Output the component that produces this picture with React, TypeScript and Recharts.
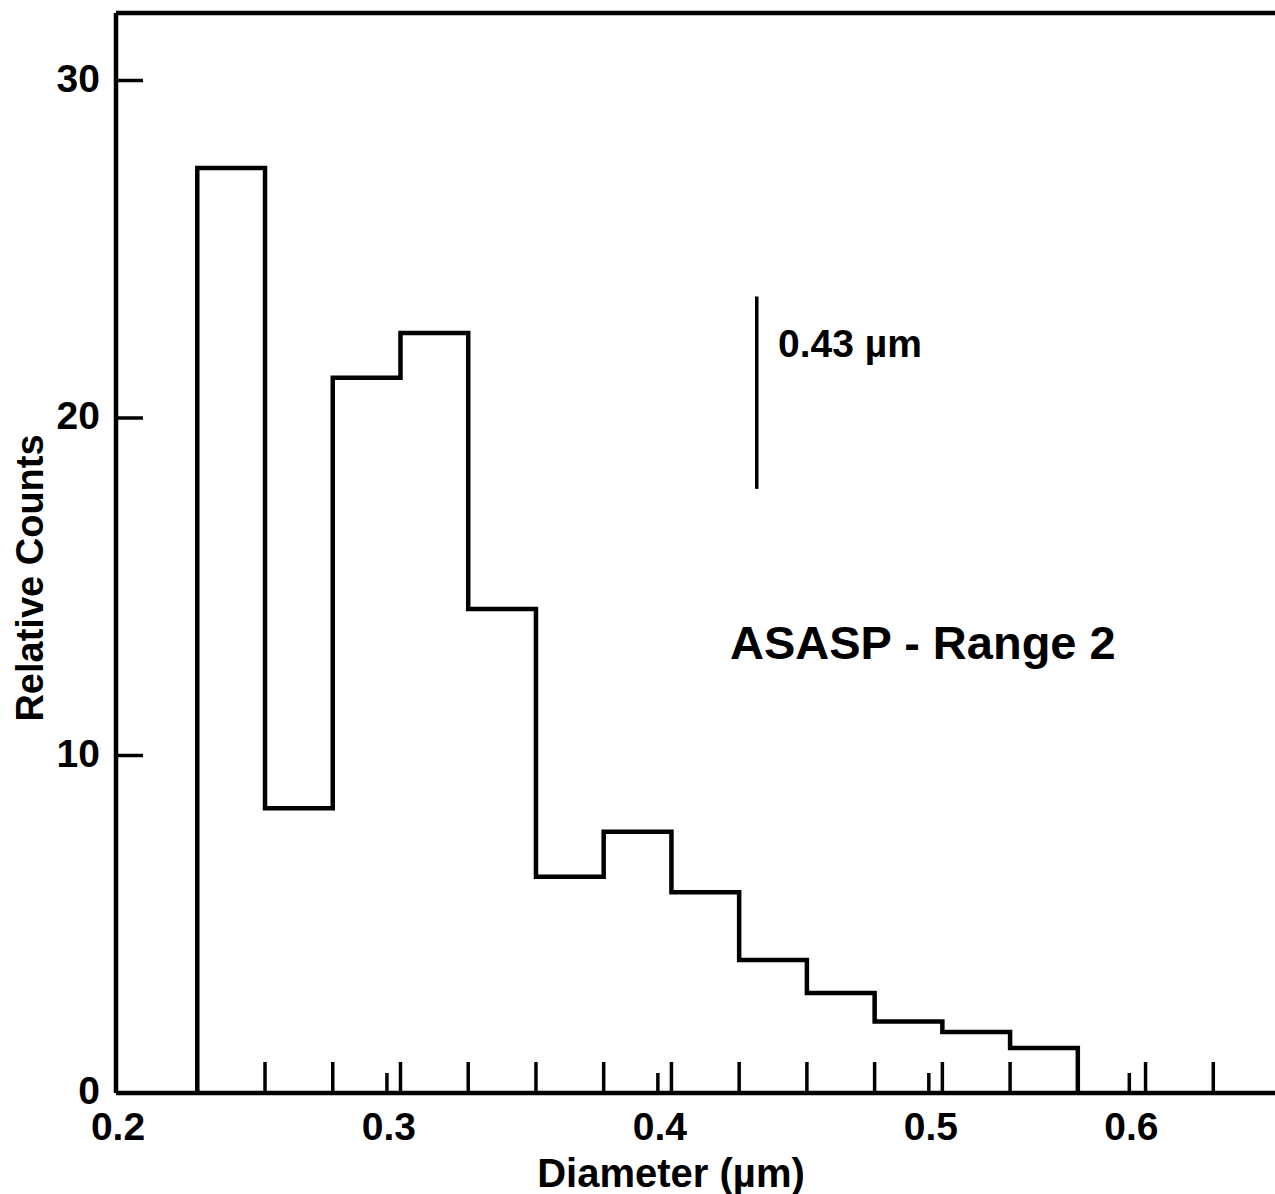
import React from 'react';
import { ComposedChart, Line, XAxis, YAxis, ReferenceLine, Customized } from 'recharts';

// ---- data ----
// lower edges of the size channels (µm); last entry closes the final bin
const binEdges = [0.23, 0.255, 0.28, 0.305, 0.33, 0.355, 0.38, 0.405, 0.43, 0.455, 0.48, 0.505, 0.53, 0.555];
// relative counts of each channel
const counts = [27.41, 8.44, 21.19, 22.52, 14.34, 6.41, 7.74, 5.95, 3.94, 2.96, 2.12, 1.81, 1.33];
// channel boundary tick marks along the x axis
const channelTicks = [0.23, 0.255, 0.28, 0.305, 0.33, 0.355, 0.38, 0.405, 0.43, 0.455, 0.48, 0.505, 0.53, 0.555, 0.58, 0.605];
// labelled diameter ticks (positions as drawn in the original) and their labels
const labelTickPositions = [0.2, 0.3, 0.4, 0.5, 0.574];
const labelTickTexts = ['0.2', '0.3', '0.4', '0.5', '0.6'];
const yTicks = [0, 10, 20, 30];
const yTickLabels = ['0', '10', '20', '30'];
// marker line
const markerDiameter = 0.4365;
const markerRange = [17.9, 23.6];
const markerText = '0.43 \u00b5m';
const titleText = 'ASASP - Range 2';
const xTitle = 'Diameter (\u00b5m)';
const yTitle = 'Relative Counts';

const X_DOMAIN = [0.2, 0.637];
const Y_DOMAIN = [0, 32];

const FONT = '"Liberation Sans", Arial, Helvetica, sans-serif';

const histData = [
  { d: binEdges[0], c: 0 },
  ...counts.map((c, i) => ({ d: binEdges[i], c })),
  { d: binEdges[binEdges.length - 1], c: 0 },
];

const allXTicks = [...labelTickPositions, ...channelTicks].sort((a, b) => a - b);

const near = (a: number, b: number) => Math.abs(a - b) < 1e-9;

const XTick = (props: any) => {
  const { x, y, payload } = props;
  const v = payload.value;
  const li = labelTickPositions.findIndex((p) => near(p, v));
  const isChannel = channelTicks.some((p) => near(p, v));
  return (
    <g>
      {isChannel && <line x1={x} x2={x} y1={y} y2={y - 31} stroke="#000" strokeWidth={3.5} />}
      {li >= 0 && <line x1={x} x2={x} y1={y} y2={y - 20} stroke="#000" strokeWidth={3.5} />}
      {li >= 0 && (
        <text x={x + 2} y={y + 47} textAnchor="middle" fontFamily={FONT} fontWeight="bold" fontSize={39} fill="#000">
          {labelTickTexts[li]}
        </text>
      )}
    </g>
  );
};

const YTick = (props: any) => {
  const { x, y, payload } = props;
  const i = yTicks.findIndex((t) => near(t, payload.value));
  return (
    <g>
      <line x1={x} x2={x + 27} y1={y} y2={y} stroke="#000" strokeWidth={3.5} />
      <text x={x - 16} y={y + 11} textAnchor="end" fontFamily={FONT} fontWeight="bold" fontSize={39} fill="#000">
        {i >= 0 ? yTickLabels[i] : ''}
      </text>
    </g>
  );
};

const Texts = () => (
  <g>
    <text x={730} y={659} fontFamily={FONT} fontWeight="bold" fontSize={47} fill="#000">
      {titleText}
    </text>
    <text x={778} y={357} fontFamily={FONT} fontWeight="bold" fontSize={39} fill="#000">
      {markerText}
    </text>
    <text x={671} y={1187} textAnchor="middle" fontFamily={FONT} fontWeight="bold" fontSize={40} fill="#000">
      {xTitle}
    </text>
    <text
      x={43}
      y={578}
      transform="rotate(-90 43 578)"
      textAnchor="middle"
      fontFamily={FONT}
      fontWeight="bold"
      fontSize={38}
      fill="#000"
    >
      {yTitle}
    </text>
  </g>
);

export default function App() {
  return (
    <div
      style={{
        position: 'absolute',
        left: 0,
        top: 0,
        width: 1275,
        height: 1194,
        overflow: 'hidden',
        background: '#fff',
      }}
    >
      <ComposedChart
        width={1300}
        height={1194}
        data={histData}
        margin={{ top: 13, right: 0, bottom: 0, left: 0 }}
      >
        <XAxis
          dataKey="d"
          type="number"
          domain={X_DOMAIN}
          allowDataOverflow
          ticks={allXTicks}
          interval={0}
          tickSize={0}
          tickMargin={0}
          tickLine={false}
          tick={XTick}
          height={101}
          axisLine={{ stroke: '#000', strokeWidth: 4.5 }}
        />
        <YAxis
          type="number"
          domain={Y_DOMAIN}
          allowDataOverflow
          ticks={yTicks}
          interval={0}
          tickSize={0}
          tickMargin={0}
          tickLine={false}
          tick={YTick}
          width={116}
          axisLine={{ stroke: '#000', strokeWidth: 4.5 }}
        />
        <ReferenceLine y={Y_DOMAIN[1]} stroke="#000" strokeWidth={4.5} ifOverflow="visible" />
        <ReferenceLine
          segment={[
            { x: markerDiameter, y: markerRange[0] },
            { x: markerDiameter, y: markerRange[1] },
          ]}
          stroke="#000"
          strokeWidth={3.5}
        />
        <Line
          type="stepAfter"
          dataKey="c"
          stroke="#000"
          strokeWidth={4.5}
          dot={false}
          activeDot={false}
          isAnimationActive={false}
        />
        <Customized component={<Texts />} />
      </ComposedChart>
    </div>
  );
}
